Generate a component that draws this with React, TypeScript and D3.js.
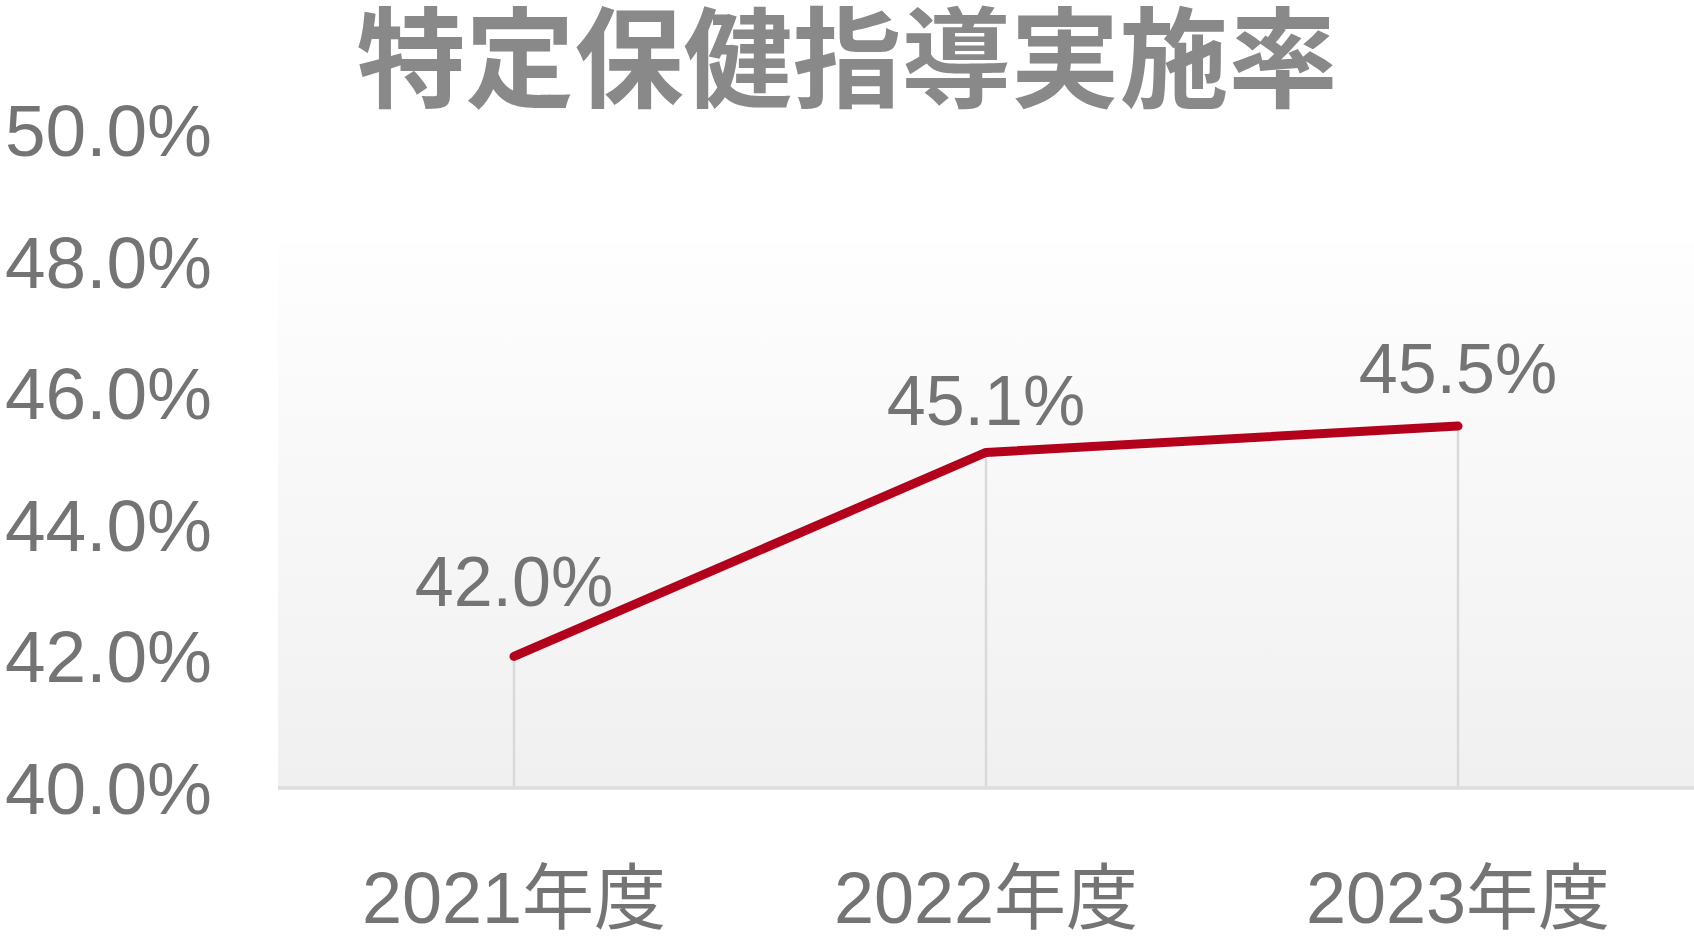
import React from 'react';
import * as d3 from 'd3';

const categories = ['2021年度', '2022年度', '2023年度'];
const rates = [42.0, 45.1, 45.5];
const rateLabels = ['42.0%', '45.1%', '45.5%'];
const labelDy = [-50, -27, -33];
const yTicks = [40, 42, 44, 46, 48, 50];

const W = 1694;
const H = 940;
const plot = { left: 278, right: 1694, top: 243, bottom: 788 };

const numFont = '"Liberation Sans", Arial, "Noto Sans CJK JP", sans-serif';
const textGray = '#747474';

const App: React.FC = () => {
  const x = d3.scaleBand<string>()
    .domain(categories)
    .range([plot.left, plot.right])
    .padding(0);

  const y = d3.scaleLinear()
    .domain([40, 50])
    .range([plot.bottom, 130]);

  const cx = (c: string) => (x(c) ?? 0) + x.bandwidth() / 2;

  const line = d3.line<number>()
    .x((_, i) => cx(categories[i]))
    .y(d => y(d));

  return (
    <svg
      width={W}
      height={H}
      style={{ position: 'fixed', top: 0, left: 0, background: '#fff' }}
    >
      <defs>
        <linearGradient id="plotBg" x1="0" y1="0" x2="0" y2="1">
          <stop offset="0%" stopColor="#fefefe" />
          <stop offset="100%" stopColor="#f0f0f0" />
        </linearGradient>
      </defs>

      {/* plot background */}
      <rect
        x={plot.left}
        y={plot.top}
        width={plot.right - plot.left}
        height={plot.bottom - plot.top}
        fill="url(#plotBg)"
      />

      {/* title */}
      <text
        x={847}
        y={99}
        textAnchor="middle"
        fontFamily='"Noto Sans CJK JP", sans-serif'
        fontWeight={700}
        fontSize={109}
        fill="#898989"
      >
        特定保健指導実施率
      </text>

      {/* y axis labels */}
      {yTicks.map(t => (
        <text
          key={t}
          x={212}
          y={y(t) + 26}
          textAnchor="end"
          fontFamily={numFont}
          fontSize={73}
          fill={textGray}
        >
          {`${t.toFixed(1)}%`}
        </text>
      ))}

      {/* drop lines */}
      {rates.map((v, i) => (
        <line
          key={categories[i]}
          x1={cx(categories[i])}
          x2={cx(categories[i])}
          y1={y(v)}
          y2={plot.bottom}
          stroke="#d9d9d9"
          strokeWidth={2.5}
        />
      ))}

      {/* x axis line */}
      <line
        x1={plot.left}
        x2={plot.right}
        y1={plot.bottom}
        y2={plot.bottom}
        stroke="#dedede"
        strokeWidth={3.5}
      />

      {/* series line */}
      <path
        d={line(rates) ?? ''}
        fill="none"
        stroke="#b3001b"
        strokeWidth={9}
        strokeLinecap="round"
        strokeLinejoin="round"
      />

      {/* data labels */}
      {rates.map((v, i) => (
        <text
          key={rateLabels[i]}
          x={cx(categories[i])}
          y={y(v) + labelDy[i]}
          textAnchor="middle"
          fontFamily={numFont}
          fontSize={70}
          fill={textGray}
        >
          {rateLabels[i]}
        </text>
      ))}

      {/* x axis labels */}
      {categories.map(c => (
        <text
          key={c}
          x={cx(c)}
          y={923}
          textAnchor="middle"
          fontFamily={numFont}
          fontSize={72}
          fill={textGray}
        >
          {c}
        </text>
      ))}
    </svg>
  );
};

export default App;
